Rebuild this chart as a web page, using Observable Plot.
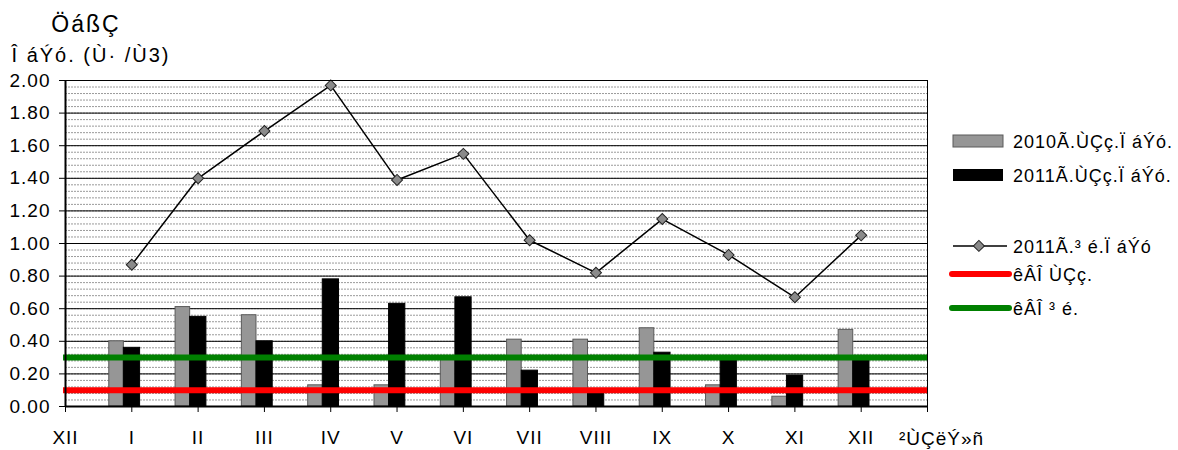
<!DOCTYPE html>
<html><head><meta charset="utf-8">
<script src="https://cdn.jsdelivr.net/npm/d3@7"></script>
<script src="https://cdn.jsdelivr.net/npm/@observablehq/plot@0.6"></script>
<style>body{margin:0;background:#fff}</style>
</head><body><div id="chart"></div>
<script>
// ---- data ----
const xTickLabels = ["XII","I","II","III","IV","V","VI","VII","VIII","IX","X","XI","XII"];
const months = ["I","II","III","IV","V","VI","VII","VIII","IX","X","XI","XII"];
const avg2010 = [0.40,0.61,0.56,0.13,0.13,0.30,0.41,0.41,0.48,0.13,0.06,0.47];
const avg2011 = [0.36,0.55,0.40,0.78,0.63,0.67,0.22,0.10,0.33,0.31,0.19,0.31];
const max2011 = [0.87,1.40,1.69,1.97,1.39,1.55,1.02,0.82,1.15,0.93,0.67,1.05];
const limitAvg = 0.10;   // red
const limitMax = 0.30;   // green
const yTicks = [0,0.2,0.4,0.6,0.8,1.0,1.2,1.4,1.6,1.8,2.0];
const titleLines = ["ÖáßÇ","Î áÝó. (Ù· /Ù3)"];
const xTitle = "²ÙÇëÝ»ñ";
const legendLabels = ["2010Ã.ÙÇç.Ï áÝó.","2011Ã.ÙÇç.Ï áÝó.","2011Ã.³ é.Ï áÝó","êÂÎ ÙÇç.","êÂÎ ³ é."];

const data = months.map((m,i)=>({m, k:i+1, a10:avg2010[i], a11:avg2011[i], mx:max2011[i]}));
const minor = d3.range(0, 2.0001, 0.04);

const W = 1178, H = 450;
const chart = Plot.plot({
  width: W, height: H,
  marginLeft: 65, marginRight: 251, marginTop: 80, marginBottom: 44,
  style: {fontFamily: "'Liberation Sans', Arial, sans-serif", fontSize: "19px", letterSpacing: "1px", color: "#000", background: "#fff"},
  x: {type: "linear", domain: [0, 13]},
  y: {domain: [0, 2]},
  marks: [
    Plot.ruleY(minor, {stroke: "#9a9a9a", strokeDasharray: "2,1", strokeWidth: 1}),
    Plot.ruleY(yTicks, {stroke: "#000", strokeWidth: 1}),
    Plot.rectY(data, {x1: d=>d.k-0.34, x2: d=>d.k-0.12, y1: 0, y2: "a10", fill: "#969696", stroke: "#5a5a5a", strokeWidth: 1}),
    Plot.rectY(data, {x1: d=>d.k-0.12, x2: d=>d.k+0.125, y1: 0, y2: "a11", fill: "#000", stroke: "#000", strokeWidth: 1}),
    Plot.ruleY([limitAvg], {stroke: "#ff0000", strokeWidth: 6, x1: -0.03, x2: 13}),
    Plot.ruleY([limitMax], {stroke: "#008000", strokeWidth: 6, x1: -0.03, x2: 13}),
    Plot.line(data, {x: "k", y: "mx", stroke: "#000", strokeWidth: 1.5}),
    Plot.dot(data, {x: "k", y: "mx", symbol: "square", r: 4.4, rotate: 45, fill: "#8a8a8a", stroke: "#222", strokeWidth: 1}),
    Plot.frame({stroke: "#000", strokeWidth: 1}),
    Plot.ruleX([0], {stroke: "#000", strokeWidth: 2}),
    Plot.ruleY([0], {stroke: "#000", strokeWidth: 2}),
    Plot.axisY({ticks: yTicks, tickFormat: d3.format(".2f"), tickSize: 6, tickPadding: 9, label: null, fontSize: 19}),
    Plot.axisX({ticks: d3.range(0, 14), tickFormat: i => xTickLabels[i] ?? "", tickSize: 6, tickPadding: 18, label: null, fontSize: 19}),
    Plot.text([xTitle], {x: 13, y: 0, frameAnchor: "bottom", lineAnchor: "middle", dx: 14, dy: 32, text: d=>d, fontSize: 19, textAnchor: "middle", letterSpacing: "1.5px"})
  ]
});
document.getElementById("chart").appendChild(chart);

// titles and legend
const svg = d3.select(chart);
const f = "'Liberation Sans', Arial, sans-serif";
svg.append("text").attr("x", 86).attr("y", 32).attr("text-anchor","middle")
  .style("font-family", f).style("font-size","23px").style("letter-spacing","2px").text(titleLines[0]);
svg.append("text").attr("x", 91).attr("y", 62).attr("text-anchor","middle")
  .style("font-family", f).style("font-size","20px").style("letter-spacing","2px").text(titleLines[1]);

const lg = svg.append("g").attr("text-anchor","start");
const rowsY = [141, 175, 246, 274, 308];
lg.append("rect").attr("x",953).attr("y",135).attr("width",50).attr("height",12).attr("fill","#969696").attr("stroke","#5a5a5a");
lg.append("rect").attr("x",953).attr("y",169).attr("width",50).attr("height",12).attr("fill","#000");
lg.append("line").attr("x1",953).attr("x2",1007).attr("y1",246).attr("y2",246).attr("stroke","#000").attr("stroke-width",1.5);
lg.append("rect").attr("x",975).attr("y",242).attr("width",7.8).attr("height",7.8).attr("fill","#8a8a8a").attr("stroke","#222")
  .attr("transform","rotate(45,978.9,245.9)");
lg.append("line").attr("x1",952).attr("x2",1009).attr("y1",274).attr("y2",274).attr("stroke","#ff0000").attr("stroke-width",6).attr("stroke-linecap","round");
lg.append("line").attr("x1",952).attr("x2",1009).attr("y1",308).attr("y2",308).attr("stroke","#008000").attr("stroke-width",6).attr("stroke-linecap","round");
legendLabels.forEach((t,i)=>{
  lg.append("text").attr("x",1013).attr("y",rowsY[i]+7).attr("text-anchor","start")
    .style("font-family", f).style("font-size","18px").style("letter-spacing","1px").text(t);
});
</script>
</body></html>
